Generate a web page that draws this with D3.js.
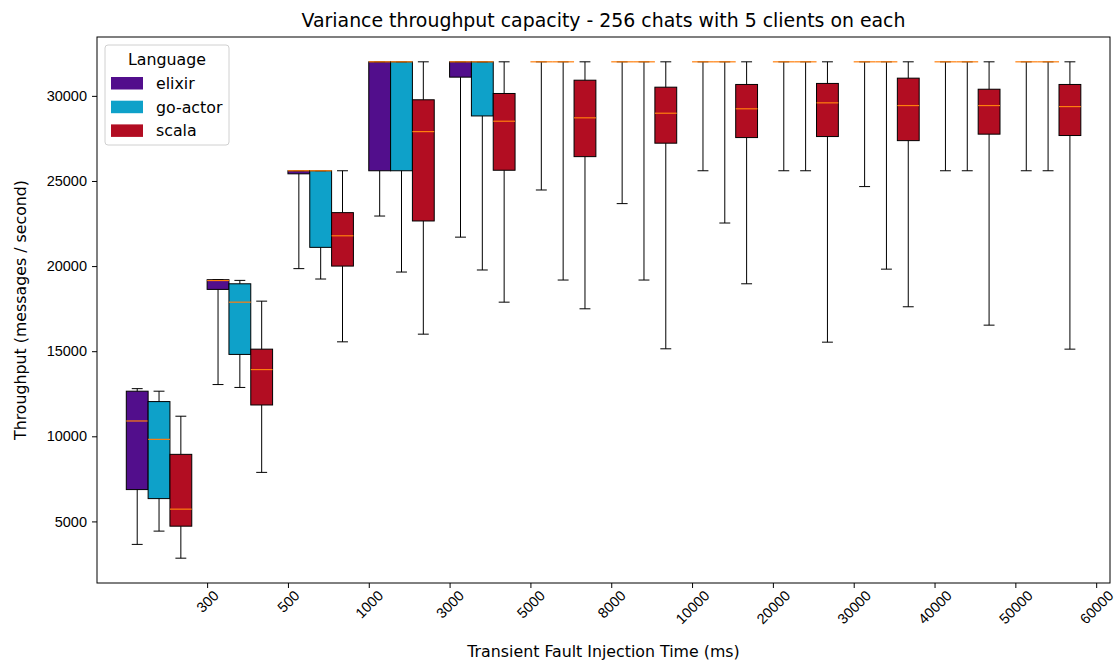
<!DOCTYPE html>
<html>
<head>
<meta charset="utf-8">
<script src="https://cdn.jsdelivr.net/npm/d3@7"></script>
<style>
  body { margin: 0; background: #fff; }
  svg { font-family: "DejaVu Sans", sans-serif; }
</style>
</head>
<body>
<div id="chart"></div>
<script>
// tick labels (fault injection time, ms) - ticks sit one group to the right
const tickLabels = ["300", "500", "1000", "3000", "5000", "8000", "10000", "20000", "30000", "40000", "50000", "60000"];
const languages = ["elixir", "go-actor", "scala"];
const colors = ["#520e8c", "#0ea1c9", "#b20d22"];

// box stats per group: [lower whisker, q1, median, q3, upper whisker]
const elixir = [
  [3650, 6870, 10900, 12650, 12800],
  [13040, 18630, 19150, 19200, 19200],
  [19850, 25420, 25600, 25600, 25600],
  [22940, 25600, 32000, 32000, 32000],
  [21700, 31100, 32000, 32000, 32000],
  [24470, 32000, 32000, 32000, 32000],
  [23670, 32000, 32000, 32000, 32000],
  [25600, 32000, 32000, 32000, 32000],
  [25600, 32000, 32000, 32000, 32000],
  [24670, 32000, 32000, 32000, 32000],
  [25600, 32000, 32000, 32000, 32000],
  [25600, 32000, 32000, 32000, 32000]
];
const goActor = [
  [4430, 6340, 9820, 12040, 12650],
  [12870, 14810, 17880, 18960, 19160],
  [19240, 21100, 25600, 25600, 25600],
  [19650, 25600, 32000, 32000, 32000],
  [19770, 28820, 32000, 32000, 32000],
  [19180, 32000, 32000, 32000, 32000],
  [19180, 32000, 32000, 32000, 32000],
  [22530, 32000, 32000, 32000, 32000],
  [25600, 32000, 32000, 32000, 32000],
  [19820, 32000, 32000, 32000, 32000],
  [25600, 32000, 32000, 32000, 32000],
  [25600, 32000, 32000, 32000, 32000]
];
const scala = [
  [2840, 4720, 5720, 8940, 11180],
  [7880, 11840, 13920, 15120, 17940],
  [15550, 20000, 21780, 23140, 25600],
  [16000, 22650, 27900, 29770, 32000],
  [17880, 25630, 28510, 30140, 32000],
  [17490, 26430, 28710, 30920, 32000],
  [15140, 27220, 28980, 30510, 32000],
  [18960, 27550, 29240, 30670, 32000],
  [15530, 27610, 29590, 30730, 32000],
  [17610, 27370, 29430, 31040, 32000],
  [16530, 27750, 29430, 30390, 32000],
  [15120, 27670, 29370, 30670, 32000]
];
const series = [elixir, goActor, scala];

const width = 1118, height = 664;
const margin = { top: 37, right: 8, bottom: 81, left: 97 };
const boxW = 0.27; // width of one box in group units

const svg = d3.select("#chart").append("svg")
  .attr("width", width)
  .attr("height", height);

const x = d3.scaleLinear()
  .domain([-0.3625, 12.171])
  .range([margin.left, width - margin.right]);

const allVals = series.flat(2);
const lo = d3.min(allVals), hi = d3.max(allVals), pad = (hi - lo) * 0.05;
const y = d3.scaleLinear()
  .domain([lo - pad, hi + pad])
  .range([height - margin.bottom, margin.top]);

// boxes
series.forEach((data, j) => {
  const g = svg.append("g");
  const cell = g.selectAll("g")
    .data(data.map((d, i) => ({ i, s: d })))
    .enter().append("g");

  const left = d => x(d.i + j * boxW);
  const right = d => x(d.i + (j + 1) * boxW);
  const mid = d => x(d.i + (j + 0.5) * boxW);
  const capHalf = (x(boxW) - x(0)) / 4;

  cell.append("rect")
    .attr("x", left)
    .attr("y", d => y(d.s[3]))
    .attr("width", d => right(d) - left(d))
    .attr("height", d => y(d.s[1]) - y(d.s[3]))
    .attr("fill", colors[j])
    .attr("stroke", "#000")
    .attr("stroke-width", 1);

  // whiskers
  cell.append("line")
    .attr("x1", mid).attr("x2", mid)
    .attr("y1", d => y(d.s[1])).attr("y2", d => y(d.s[0]))
    .attr("stroke", "#000");
  cell.append("line")
    .attr("x1", mid).attr("x2", mid)
    .attr("y1", d => y(d.s[3])).attr("y2", d => y(d.s[4]))
    .attr("stroke", "#000");

  // caps
  [0, 4].forEach(k => {
    cell.append("line")
      .attr("x1", d => mid(d) - capHalf).attr("x2", d => mid(d) + capHalf)
      .attr("y1", d => y(d.s[k])).attr("y2", d => y(d.s[k]))
      .attr("stroke", "#000");
  });

  // medians
  cell.append("line")
    .attr("x1", left).attr("x2", right)
    .attr("y1", d => y(d.s[2])).attr("y2", d => y(d.s[2]))
    .attr("stroke", "#ff7f0e")
    .attr("stroke-width", 1.2);
});

// axes
const xAxis = d3.axisBottom(x)
  .tickValues(d3.range(1, tickLabels.length + 1))
  .tickFormat(d => tickLabels[d - 1])
  .tickSizeOuter(0)
  .tickSize(5)
  .tickPadding(3);

const gx = svg.append("g")
  .attr("transform", `translate(0,${height - margin.bottom})`)
  .call(xAxis);
gx.select(".domain").remove();
gx.selectAll("text")
  .attr("font-size", 14.5)
  .attr("fill", "#000")
  .attr("text-anchor", "middle")
  .attr("dy", null)
  .attr("dominant-baseline", "central")
  .each(function() {
    const w = this.getComputedTextLength();
    const h = 14;
    const off = 5 + (w + h) * Math.SQRT1_2 / 2;
    d3.select(this).attr("y", null)
      .attr("transform", `translate(0,${off}) rotate(-45)`);
  });

const yAxis = d3.axisLeft(y)
  .tickValues(d3.range(5000, 30001, 5000))
  .tickFormat(d3.format("d"))
  .tickSizeOuter(0)
  .tickSize(5)
  .tickPadding(5);
const gy = svg.append("g")
  .attr("transform", `translate(${margin.left},0)`)
  .call(yAxis);
gy.select(".domain").remove();
gy.selectAll("text").attr("font-size", 14.5).attr("fill", "#000");

// frame
svg.append("rect")
  .attr("x", margin.left)
  .attr("y", margin.top)
  .attr("width", width - margin.left - margin.right)
  .attr("height", height - margin.top - margin.bottom)
  .attr("fill", "none")
  .attr("stroke", "#000")
  .attr("stroke-width", 1);

// title and labels
svg.append("text")
  .attr("x", (margin.left + width - margin.right) / 2)
  .attr("y", 27)
  .attr("text-anchor", "middle")
  .attr("font-size", 18.9)
  .text("Variance throughput capacity - 256 chats with 5 clients on each");

svg.append("text")
  .attr("x", (margin.left + width - margin.right) / 2)
  .attr("y", 657)
  .attr("text-anchor", "middle")
  .attr("font-size", 15.8)
  .text("Transient Fault Injection Time (ms)");

svg.append("text")
  .attr("transform", `translate(26,${(margin.top + height - margin.bottom) / 2}) rotate(-90)`)
  .attr("text-anchor", "middle")
  .attr("font-size", 15.8)
  .text("Throughput (messages / second)");

// legend
const legend = svg.append("g").attr("transform", "translate(105,45)");
legend.append("rect")
  .attr("width", 124)
  .attr("height", 100)
  .attr("rx", 3)
  .attr("fill", "#fff")
  .attr("fill-opacity", 0.8)
  .attr("stroke", "#d0d0d0");
legend.append("text")
  .attr("x", 62)
  .attr("y", 14)
  .attr("text-anchor", "middle")
  .attr("dominant-baseline", "central")
  .attr("font-size", 15.8)
  .text("Language");
const item = legend.selectAll("g.item")
  .data(languages)
  .enter().append("g")
  .attr("class", "item")
  .attr("transform", (d, i) => `translate(6,${32 + i * 23.7})`);
item.append("rect")
  .attr("width", 32)
  .attr("height", 12.5)
  .attr("fill", (d, i) => colors[i]);
item.append("text")
  .attr("x", 45)
  .attr("y", 6.5)
  .attr("dominant-baseline", "central")
  .attr("font-size", 15.8)
  .text(d => d);
</script>
</body>
</html>
